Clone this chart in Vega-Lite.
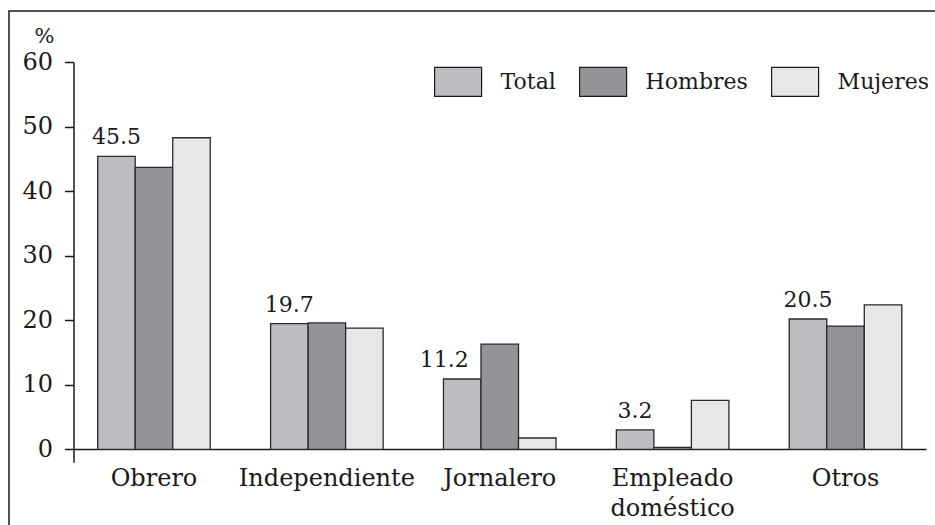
{
  "$schema": "https://vega.github.io/schema/vega-lite/v6.json",
  "width": 931,
  "height": 519,
  "autosize": {"type": "none"},
  "padding": {"left": 9, "top": 11, "right": 0, "bottom": 0},
  "background": "white",
  "config": {
    "font": "DejaVu Serif",
    "view": {"stroke": "#1a1a1a", "strokeWidth": 1.5}
  },
  "data": {
    "values": [
      {"categoria": "Obrero", "serie": "Total", "valor": 45.4, "etiqueta": "45.5"},
      {"categoria": "Obrero", "serie": "Hombres", "valor": 43.7},
      {"categoria": "Obrero", "serie": "Mujeres", "valor": 48.3},
      {"categoria": "Independiente", "serie": "Total", "valor": 19.5, "etiqueta": "19.7"},
      {"categoria": "Independiente", "serie": "Hombres", "valor": 19.6},
      {"categoria": "Independiente", "serie": "Mujeres", "valor": 18.8},
      {"categoria": "Jornalero", "serie": "Total", "valor": 10.9, "etiqueta": "11.2"},
      {"categoria": "Jornalero", "serie": "Hombres", "valor": 16.3},
      {"categoria": "Jornalero", "serie": "Mujeres", "valor": 1.75},
      {"categoria": "Empleado doméstico", "serie": "Total", "valor": 3.0, "etiqueta": "3.2"},
      {"categoria": "Empleado doméstico", "serie": "Hombres", "valor": 0.3},
      {"categoria": "Empleado doméstico", "serie": "Mujeres", "valor": 7.6},
      {"categoria": "Otros", "serie": "Total", "valor": 20.2, "etiqueta": "20.5"},
      {"categoria": "Otros", "serie": "Hombres", "valor": 19.1},
      {"categoria": "Otros", "serie": "Mujeres", "valor": 22.4}
    ]
  },
  "encoding": {
    "x": {
      "field": "categoria",
      "type": "nominal",
      "sort": ["Obrero", "Independiente", "Jornalero", "Empleado doméstico", "Otros"],
      "scale": {"range": [64.5, 917], "paddingInner": 0.349, "paddingOuter": 0.14},
      "axis": {
        "orient": "bottom",
        "offset": -81,
        "title": null,
        "ticks": false,
        "domainColor": "#1a1a1a",
        "domainWidth": 1.5,
        "labelAngle": 0,
        "labelFontSize": 24,
        "labelPadding": 17,
        "labelBaseline": "top",
        "labelColor": "#1a1a1a",
        "labelLineHeight": 30,
        "labelExpr": "datum.label == 'Empleado doméstico' ? ['Empleado', 'doméstico'] : datum.label"
      }
    },
    "xOffset": {"field": "serie", "type": "nominal", "sort": ["Total", "Hombres", "Mujeres"]},
    "y": {
      "field": "valor",
      "type": "quantitative",
      "scale": {"domain": [-2, 60], "range": [451.2, 51.3], "nice": false, "zero": false},
      "axis": {
        "orient": "left",
        "offset": -64.5,
        "values": [0, 10, 20, 30, 40, 50, 60],
        "grid": false,
        "title": "%",
        "titleAngle": 0,
        "titleX": -29.5,
        "titleY": 31,
        "titleAlign": "center",
        "titleBaseline": "alphabetic",
        "titleFontSize": 21,
        "titleFontWeight": "normal",
        "titleColor": "#1a1a1a",
        "domainColor": "#1a1a1a",
        "domainWidth": 1.5,
        "tickColor": "#1a1a1a",
        "tickWidth": 1.5,
        "tickSize": 9,
        "labelFontSize": 24,
        "labelPadding": 12,
        "labelColor": "#1a1a1a"
      }
    }
  },
  "layer": [
    {
      "mark": {"type": "bar", "stroke": "#2a2a2a", "strokeWidth": 1.3},
      "encoding": {
        "y2": {"datum": 0},
        "color": {
          "field": "serie",
          "type": "nominal",
          "sort": ["Total", "Hombres", "Mujeres"],
          "scale": {"domain": ["Total", "Hombres", "Mujeres"], "range": ["#bcbdc1", "#939497", "#e6e7e9"]},
          "legend": {
            "orient": "none",
            "legendX": 424.6,
            "legendY": 46,
            "direction": "horizontal",
            "title": null,
            "padding": 0,
            "symbolType": "M-1,-0.617H1V0.617H-1Z",
            "symbolSize": 2209,
            "symbolStrokeColor": "#1a1a1a",
            "symbolStrokeWidth": 1.2,
            "symbolOpacity": 1,
            "labelFontSize": 22,
            "labelOffset": 18,
            "columnPadding": 20,
            "labelColor": "#1a1a1a"
          }
        }
      }
    },
    {
      "transform": [{"filter": "isValid(datum.etiqueta) && datum.categoria != 'Jornalero'"}],
      "mark": {"type": "text", "dy": -12, "baseline": "alphabetic", "fontSize": 22, "color": "#1a1a1a"},
      "encoding": {"text": {"field": "etiqueta", "type": "nominal"}}
    },
    {
      "transform": [{"filter": "isValid(datum.etiqueta) && datum.categoria == 'Jornalero'"}],
      "mark": {"type": "text", "dy": -12, "dx": -18, "baseline": "alphabetic", "fontSize": 22, "color": "#1a1a1a"},
      "encoding": {"text": {"field": "etiqueta", "type": "nominal"}}
    }
  ]
}
